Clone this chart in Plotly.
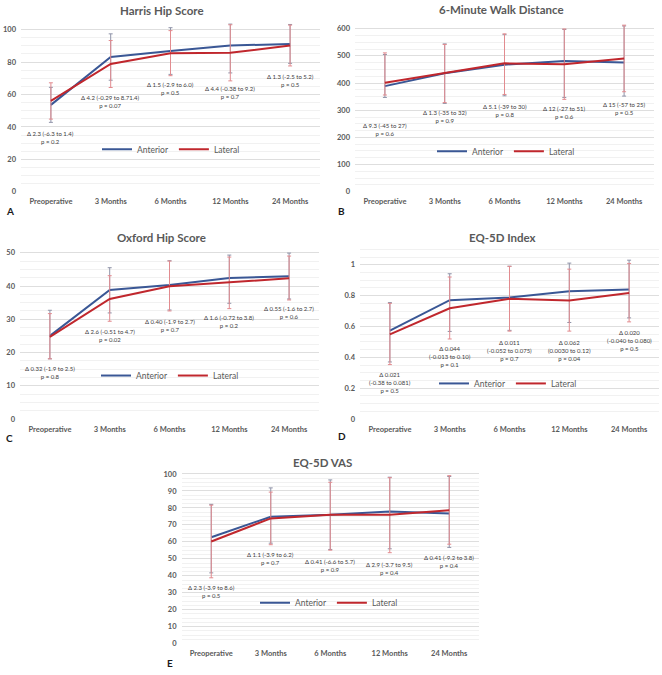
import plotly.graph_objects as go

# categories shared by all panels
months = ["Preoperative", "3 Months", "6 Months", "12 Months", "24 Months"]

# A - Harris Hip Score
harris_ant = [53.6, 83.1, 86.8, 90.2, 91.2]
harris_lat = [56.0, 78.8, 85.5, 85.7, 90.2]
harris_ant_hi = [64.4, 97.4, 101.2, 103.5, 103.2]
harris_ant_lo = [42.8, 68.8, 72.4, 73.3, 79.2]
harris_lat_hi = [67.2, 93.3, 99.4, 103.0, 102.8]
harris_lat_lo = [44.8, 64.3, 71.6, 68.4, 77.6]
harris_notes = ["Δ 2.3 (-6.3 to 1.4)<br>p = 0.2", "Δ 4.2 (-0.29 to 8.71.4)<br>p = 0.07",
                "Δ 1.5 (-2.9 to 6.0)<br>p = 0.5", "Δ 4.4 (-0.38 to 9.2)<br>p = 0.7",
                "Δ 1.3 (-2.5 to 5.2)<br>p = 0.5"]
harris_note_y = [33.5, 55.5, 63.4, 61, 68.6]

# B - 6-Minute Walk Distance
walk_ant = [388.7, 436, 467.6, 481, 476]
walk_lat = [400.8, 436, 472.5, 469, 490.7]
walk_ant_hi = [505, 544, 578, 597, 610]
walk_ant_lo = [347, 325, 353, 347, 352]
walk_lat_hi = [511, 542, 581, 599, 613]
walk_lat_lo = [356, 328, 358, 340, 368]
walk_notes = ["Δ 9.3 (-45 to 27)<br>p = 0.6", "Δ 1.3 (-35 to 32)<br>p = 0.9",
              "Δ 5.1 (-39 to 30)<br>p = 0.8", "Δ 12 (-27 to 51)<br>p = 0.6",
              "Δ 15 (-57 to 25)<br>p = 0.5"]
walk_note_y = [229, 278, 299, 290, 306]

# C - Oxford Hip Score
oxford_ant = [25.0, 38.8, 40.3, 42.4, 42.9]
oxford_lat = [24.7, 36.1, 39.9, 41.1, 42.3]
oxford_ant_hi = [32.7, 45.5, 47.6, 49.3, 49.9]
oxford_ant_lo = [18.1, 31.9, 32.8, 34.8, 36.1]
oxford_lat_hi = [31.7, 43.1, 47.5, 48.7, 49.0]
oxford_lat_lo = [18.1, 29.4, 32.5, 33.2, 35.8]
oxford_notes = ["Δ 0.32 (-1.9 to 2.5)<br>p = 0.8", "Δ 2.6 (-0.51 to 4.7)<br>p = 0.02",
                "Δ 0.40 (-1.9 to 2.7)<br>p = 0.7", "Δ 1.6 (-0.72 to 3.8)<br>p = 0.2",
                "Δ 0.55 (-1.6 to 2.7)<br>p = 0.6"]
oxford_note_y = [14.0, 25.2, 28.1, 29.2, 31.9]

# D - EQ-5D Index
index_ant = [0.573, 0.771, 0.788, 0.829, 0.840]
index_lat = [0.549, 0.718, 0.780, 0.769, 0.818]
index_ant_hi = [0.755, 0.942, 0.991, 1.011, 1.030]
index_ant_lo = [0.370, 0.568, 0.575, 0.626, 0.656]
index_lat_hi = [0.750, 0.921, 0.990, 0.972, 1.009]
index_lat_lo = [0.353, 0.519, 0.570, 0.570, 0.630]
index_notes = ["Δ 0.021<br>(-0.38 to 0.081)<br>p = 0.5", "Δ 0.044<br>(-0.013 to 0.10)<br>p = 0.1",
               "Δ 0.011<br>(-0.052 to 0.075)<br>p = 0.7", "Δ 0.062<br>(0.0030 to 0.12)<br>p = 0.04",
               "Δ 0.020<br>(-0.040 to 0.080)<br>p = 0.5"]
index_note_y = [0.237, 0.408, 0.444, 0.444, 0.506]

# E - EQ-5D VAS
vas_ant = [62.7, 74.8, 75.9, 77.9, 76.7]
vas_lat = [60.2, 73.8, 75.9, 75.9, 78.6]
vas_ant_hi = [82.1, 91.8, 96.5, 98.1, 98.5]
vas_ant_lo = [41.7, 59.2, 55.5, 55.9, 56.7]
vas_lat_hi = [81.6, 89.3, 95.1, 97.8, 99.0]
vas_lat_lo = [38.8, 58.3, 55.1, 53.6, 58.6]
vas_notes = ["Δ 2.3 (-3.9 to 8.6)<br>p = 0.5", "Δ 1.1 (-3.9 to 6.2)<br>p = 0.7",
             "Δ 0.41 (-6.6 to 5.7)<br>p = 0.9", "Δ 2.9 (-3.7 to 9.5)<br>p = 0.4",
             "Δ 0.41 (-9.2 to 3.8)<br>p = 0.4"]
vas_note_y = [30.6, 50.2, 46.3, 44.3, 48.2]

W, H = 662, 675
BLUE = "#3a5795"
RED = "#c0272d"
FONT = "Lato"

panels = [
    dict(title="Harris Hip Score", letter="A", ant=harris_ant, lat=harris_lat,
         ant_hi=harris_ant_hi, ant_lo=harris_ant_lo, lat_hi=harris_lat_hi, lat_lo=harris_lat_lo,
         notes=harris_notes, note_y=harris_note_y,
         xd=(21, 320), yd=(191, 20.4), yr=(0, 104), dtick=20,
         title_pos=(162, 8), letter_pos=(4, 211), legend_pos=(171, 148)),
    dict(title="6-Minute Walk Distance", letter="B", ant=walk_ant, lat=walk_lat,
         ant_hi=walk_ant_hi, ant_lo=walk_ant_lo, lat_hi=walk_lat_hi, lat_lo=walk_lat_lo,
         notes=walk_notes, note_y=walk_note_y,
         xd=(355, 654), yd=(191, 20.5), yr=(0, 620), dtick=100,
         title_pos=(501, 7), letter_pos=(336, 210), legend_pos=(506, 150)),
    dict(title="Oxford Hip Score", letter="C", ant=oxford_ant, lat=oxford_lat,
         ant_hi=oxford_ant_hi, ant_lo=oxford_ant_lo, lat_hi=oxford_lat_hi, lat_lo=oxford_lat_lo,
         notes=oxford_notes, note_y=oxford_note_y,
         xd=(20, 319), yd=(421, 247.7), yr=(0, 51.5), dtick=10,
         title_pos=(161, 237), letter_pos=(4, 440), legend_pos=(170, 377)),
    dict(title="EQ-5D Index", letter="D", ant=index_ant, lat=index_lat,
         ant_hi=index_ant_hi, ant_lo=index_ant_lo, lat_hi=index_lat_hi, lat_lo=index_lat_lo,
         notes=index_notes, note_y=index_note_y,
         xd=(360, 659), yd=(421, 247.8), yr=(0, 1.11), dtick=0.2,
         title_pos=(502, 237), letter_pos=(336, 438), legend_pos=(508, 385)),
    dict(title="EQ-5D VAS", letter="E", ant=vas_ant, lat=vas_lat,
         ant_hi=vas_ant_hi, ant_lo=vas_ant_lo, lat_hi=vas_lat_hi, lat_lo=vas_lat_lo,
         notes=vas_notes, note_y=vas_note_y,
         xd=(181.5, 479), yd=(648.3, 474.9), yr=(0, 101), dtick=10,
         title_pos=(322, 465), letter_pos=(165, 668), legend_pos=(329, 607)),
]

fig = go.Figure()
layout = {}
annotations = []

for i, p in enumerate(panels, start=1):
    sfx = "" if i == 1 else str(i)
    xa, ya = "x" + sfx, "y" + sfx
    leg = "legend" + sfx

    for name, vals, hi, lo, color, ecolor in [
        ("Anterior", p["ant"], p["ant_hi"], p["ant_lo"], BLUE, "#8f93a8"),
        ("Lateral", p["lat"], p["lat_hi"], p["lat_lo"], RED, "#e28b8f"),
    ]:
        fig.add_trace(go.Scatter(
            x=months, y=vals, mode="lines", name=name,
            line=dict(color=color, width=2),
            error_y=dict(type="data", symmetric=False,
                         array=[h - v for h, v in zip(hi, vals)],
                         arrayminus=[v - l for l, v in zip(lo, vals)],
                         color=ecolor, thickness=1, width=2),
            xaxis=xa, yaxis=ya, legend=leg, hoverinfo="skip",
        ))

    layout["xaxis" + sfx] = dict(
        domain=[p["xd"][0] / W, p["xd"][1] / W], anchor=ya, type="category",
        range=[-0.5, 4.5], showgrid=False, showline=False, ticks="",
        tickfont=dict(family=FONT, size=7.5, color="#595959", weight="bold"),
        ticklabelstandoff=4,
    )
    layout["yaxis" + sfx] = dict(
        domain=[1 - p["yd"][0] / H, 1 - p["yd"][1] / H], anchor=xa,
        range=list(p["yr"]), dtick=p["dtick"], showline=False, zeroline=False,
        gridcolor="#dedede", gridwidth=1,
        minor=dict(dtick=p["dtick"] / 4, showgrid=True, gridcolor="#f1f1f1", gridwidth=1),
        tickfont=dict(family=FONT, size=7.5, color="#595959", weight="bold"),
        ticklabelstandoff=4,
    )
    layout[leg] = dict(
        orientation="h", x=p["legend_pos"][0] / W, y=1 - p["legend_pos"][1] / H,
        xanchor="center", yanchor="middle", itemwidth=30,
        font=dict(family=FONT, size=8.5, color="#595959"),
        bgcolor="rgba(0,0,0,0)", tracegroupgap=0,
    )

    for cat, txt, ny in zip(months, p["notes"], p["note_y"]):
        annotations.append(dict(
            x=cat, y=ny, xref=xa, yref=ya, text=txt, showarrow=False,
            font=dict(family=FONT, size=6, color="#404040"), align="center",
        ))

    annotations.append(dict(
        x=p["title_pos"][0] / W, y=1 - p["title_pos"][1] / H, xref="paper", yref="paper",
        text=p["title"], showarrow=False, xanchor="center", yanchor="middle",
        font=dict(family=FONT, size=11.5, color="#595959", weight="bold"),
    ))
    annotations.append(dict(
        x=p["letter_pos"][0] / W, y=1 - p["letter_pos"][1] / H, xref="paper", yref="paper",
        text=p["letter"], showarrow=False, xanchor="left", yanchor="middle",
        font=dict(family=FONT, size=10, color="#1a1a1a", weight="bold"),
    ))

fig.update_layout(
    width=W, height=H,
    margin=dict(l=0, r=0, t=0, b=0),
    paper_bgcolor="white", plot_bgcolor="white",
    annotations=annotations,
    **layout,
)

# drop the browser's default body margin so the figure sits at the page origin
fig.write_html("out.html", config={"displayModeBar": False},
               post_script="document.body.style.margin = '0';")
